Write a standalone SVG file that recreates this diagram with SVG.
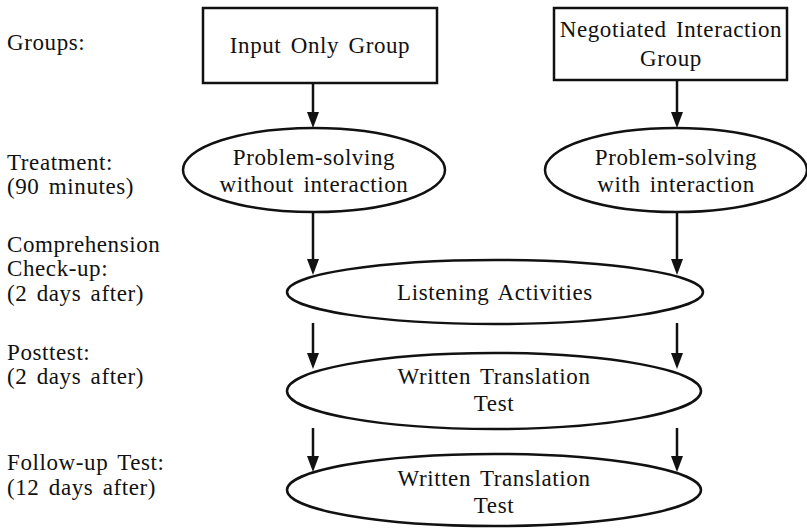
<svg xmlns="http://www.w3.org/2000/svg" width="807" height="528" viewBox="0 0 807 528">
<defs>
<style>
text{font-family:'Liberation Serif','Times New Roman',serif;font-size:23px;fill:#111;letter-spacing:0.6px;word-spacing:3px}
.c{text-anchor:middle}
.shape{fill:#fff;stroke:#111;stroke-width:2.5}
.edge{fill:none;stroke:#111;stroke-width:2.5}
.head{fill:#111}
</style>
</defs>
<rect width="807" height="528" fill="#fff"/>
<g id="labels">
<text x="7" y="50">Groups:</text>
<text x="7" y="170">Treatment:</text>
<text x="7" y="194">(90 minutes)</text>
<text x="7" y="252">Comprehension</text>
<text x="7" y="276">Check-up:</text>
<text x="7" y="301">(2 days after)</text>
<text x="7" y="360">Posttest:</text>
<text x="7" y="384">(2 days after)</text>
<text x="7" y="470">Follow-up Test:</text>
<text x="7" y="495">(12 days after)</text>
</g>
<g id="connectors">
<line class="edge" x1="313" y1="83" x2="313" y2="112"/>
<path class="head" d="M307,112 L319,112 L313,128 Z"/>
<line class="edge" x1="677" y1="80" x2="677" y2="112"/>
<path class="head" d="M671,112 L683,112 L677,128 Z"/>
<line class="edge" x1="313" y1="212" x2="313" y2="259"/>
<path class="head" d="M307,259 L319,259 L313,275 Z"/>
<line class="edge" x1="677" y1="212" x2="677" y2="259"/>
<path class="head" d="M671,259 L683,259 L677,275 Z"/>
<line class="edge" x1="313" y1="323" x2="313" y2="353"/>
<path class="head" d="M307,353 L319,353 L313,369 Z"/>
<line class="edge" x1="677" y1="323" x2="677" y2="353"/>
<path class="head" d="M671,353 L683,353 L677,369 Z"/>
<line class="edge" x1="313" y1="428" x2="313" y2="456"/>
<path class="head" d="M307,456 L319,456 L313,472 Z"/>
<line class="edge" x1="677" y1="428" x2="677" y2="456"/>
<path class="head" d="M671,456 L683,456 L677,472 Z"/>
</g>
<g id="input-only">
<rect class="shape" x="203" y="8" width="234" height="75"/>
<text class="c" x="320" y="53">Input Only Group</text>
</g>
<g id="negotiated">
<rect class="shape" x="554" y="8" width="233" height="72"/>
<text class="c" x="671" y="37">Negotiated Interaction</text>
<text class="c" x="671" y="66">Group</text>
</g>
<g id="ps-without">
<ellipse class="shape" cx="314" cy="170" rx="131" ry="42"/>
<text class="c" x="314" y="165">Problem-solving</text>
<text class="c" x="314" y="192">without interaction</text>
</g>
<g id="ps-with">
<ellipse class="shape" cx="676" cy="170" rx="131" ry="42"/>
<text class="c" x="676" y="165">Problem-solving</text>
<text class="c" x="676" y="192">with interaction</text>
</g>
<g id="listening">
<ellipse class="shape" cx="495" cy="292" rx="208" ry="32"/>
<text class="c" x="495" y="300">Listening Activities</text>
</g>
<g id="posttest">
<ellipse class="shape" cx="494" cy="391" rx="207" ry="38"/>
<text class="c" x="494" y="384">Written Translation</text>
<text class="c" x="494" y="411">Test</text>
</g>
<g id="followup">
<ellipse class="shape" cx="494" cy="490" rx="207" ry="36"/>
<text class="c" x="494" y="486">Written Translation</text>
<text class="c" x="494" y="513">Test</text>
</g>
</svg>
